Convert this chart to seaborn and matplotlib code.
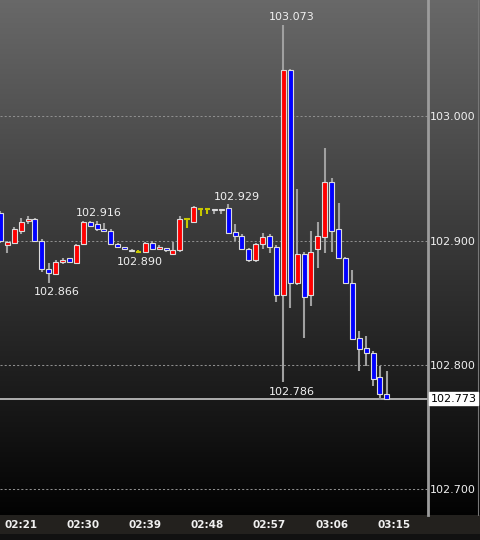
import numpy as np
import pandas as pd
import seaborn as sns
import matplotlib.pyplot as plt
import matplotlib.transforms as mtransforms

# one-minute candles, 02:18 .. 03:14
opens = [102.922, 102.896, 102.898, 102.908, 102.916, 102.917, 102.900, 102.877, 102.873, 102.883,
         102.886, 102.882, 102.897, 102.915, 102.913, 102.909, 102.908, 102.897, 102.895, 102.892,
         102.891, 102.891, 102.898, 102.893, 102.894, 102.889, 102.892, 102.917, 102.915, 102.925,
         102.925, 102.925, 102.9245, 102.926, 102.907, 102.904, 102.893, 102.884, 102.897, 102.904,
         102.895, 102.856, 103.037, 102.866, 102.889, 102.856, 102.893, 102.903, 102.947, 102.909,
         102.886, 102.866, 102.822, 102.814, 102.810, 102.790, 102.777]
highs = [102.924, 102.900, 102.911, 102.918, 102.920, 102.918, 102.901, 102.882, 102.884, 102.886,
         102.886, 102.897, 102.916, 102.916, 102.916, 102.914, 102.909, 102.898, 102.895, 102.893,
         102.892, 102.899, 102.900, 102.896, 102.894, 102.899, 102.920, 102.918, 102.928, 102.925,
         102.925, 102.925, 102.925, 102.929, 102.913, 102.905, 102.894, 102.898, 102.906, 102.905,
         102.896, 103.073, 103.038, 102.941, 102.891, 102.908, 102.915, 102.974, 102.950, 102.930,
         102.887, 102.876, 102.827, 102.823, 102.811, 102.799, 102.795]
lows = [102.898, 102.890, 102.897, 102.905, 102.913, 102.899, 102.875, 102.866, 102.872, 102.881,
        102.882, 102.881, 102.896, 102.911, 102.908, 102.907, 102.896, 102.894, 102.892, 102.891,
        102.890, 102.890, 102.892, 102.892, 102.891, 102.888, 102.891, 102.910, 102.914, 102.920,
        102.921, 102.921, 102.921, 102.905, 102.900, 102.892, 102.883, 102.883, 102.893, 102.890,
        102.851, 102.786, 102.846, 102.864, 102.822, 102.847, 102.878, 102.890, 102.891, 102.885,
        102.865, 102.820, 102.795, 102.799, 102.783, 102.772, 102.772]
closes = [102.900, 102.899, 102.909, 102.915, 102.917, 102.900, 102.877, 102.874, 102.883, 102.884,
          102.883, 102.896, 102.915, 102.912, 102.909, 102.908, 102.897, 102.895, 102.893, 102.8915,
          102.891, 102.898, 102.893, 102.895, 102.892, 102.892, 102.917, 102.917, 102.927, 102.925,
          102.925, 102.9245, 102.925, 102.906, 102.904, 102.893, 102.884, 102.897, 102.903, 102.895,
          102.856, 103.037, 102.866, 102.889, 102.855, 102.891, 102.904, 102.947, 102.908, 102.886,
          102.866, 102.821, 102.813, 102.810, 102.789, 102.777, 102.773]

time_labels = ['02:21', '02:30', '02:39', '02:48', '02:57', '03:06', '03:15']
time_idx = [3, 12, 21, 30, 39, 48, 57]
price_levels = [102.700, 102.800, 102.900, 103.000]
last_price = 102.773

# (candle index, price, 'high'/'low')
marks_idx = [41, 41, 33, 13, 19, 7]
marks_val = [103.073, 102.786, 102.929, 102.916, 102.890, 102.866]
marks_side = ['high', 'low', 'high', 'high', 'low', 'low']

df = pd.DataFrame({'open': opens, 'high': highs, 'low': lows, 'close': closes})
df['i'] = np.arange(len(df))

sns.set_style('dark')
plt.rcParams['font.family'] = ['DejaVu Sans']

fig = plt.figure(figsize=(4.8, 5.4), dpi=100)

# background gradient over whole figure
H = 540
bgc = np.zeros((H, 1, 3))
g = np.linspace(0.41, 0.01, 515)
bgc[:515, 0, :] = g[:, None]
bgc[515:534, 0, :] = [0.14, 0.13, 0.12]
bgc[534:, 0, :] = [0.07, 0.07, 0.07]
bg = fig.add_axes([0, 0, 1, 1])
bg.imshow(bgc, aspect='auto', extent=[0, 1, 0, 1])
bg.set_axis_off()
bg.axvline(478 / 480, ymin=25 / 540, color='#777777', lw=0.8)

ax = fig.add_axes([0, 25 / 540, 428 / 480, 515 / 540])
ax.set_facecolor('none')
ax.set_xlim(-0.07, 61.96)
ax.set_ylim(102.6795, 103.0932)

for lv in price_levels:
    ax.axhline(lv, color='#8e8e8e', lw=0.75, ls=(0, (2, 2)), zorder=1)
ax.axhline(last_price, color='#c8c8c8', lw=1.2, zorder=1)

up = df[df.close > df.open]
dn = df[df.close < df.open]
dj = df[df.close == df.open]

ax.vlines(df.i[df.close != df.open], df.low[df.close != df.open], df.high[df.close != df.open],
          color='#a0a0a0', lw=1.5, zorder=2)
ax.vlines(dj.i, dj.low, dj.high, color='#c8c800', lw=1.5, zorder=2)
ax.bar(up.i, up.close - up.open, bottom=up.open, width=0.72, color='#ff0000',
       edgecolor='#dcdcdc', lw=0.8, zorder=3)
ax.bar(dn.i, dn.close - dn.open, bottom=dn.open, width=0.72, color='#0000ff',
       edgecolor='#dcdcdc', lw=0.8, zorder=3)
ax.hlines(dj.open, dj.i - 0.4, dj.i + 0.4, color='#c8c800', lw=1.5, zorder=3)

for i, v, s in zip(marks_idx, marks_val, marks_side):
    dy = 2 if s == 'high' else -3
    ax.annotate(f'{v:.3f}', (i, v), xytext=(-14.5 * 0.72, dy), textcoords='offset points',
                ha='left', va='bottom' if s == 'high' else 'top', color='#f0f0f0', fontsize=8)

ax.yaxis.tick_right()
ax.set_yticks(price_levels)
ax.set_yticklabels([f'{v:.3f}' for v in price_levels])
ax.tick_params(axis='y', length=0, pad=1.5, labelcolor='#f0f0f0', labelsize=8)
ax.set_xticks(time_idx)
ax.set_xticklabels(time_labels, fontweight='bold')
ax.tick_params(axis='x', length=0, pad=3.5, labelcolor='#f0f0f0', labelsize=7.5)
ax.grid(False)
for s in ['top', 'left', 'bottom']:
    ax.spines[s].set_visible(False)
ax.spines['right'].set_color('#9c9c9c')
ax.spines['right'].set_linewidth(2)

tr = mtransforms.blended_transform_factory(ax.transAxes, ax.transData)
ax.text(1.006, last_price, f'{last_price:.3f}', transform=tr, ha='left', va='center',
        color='black', fontsize=8,
        bbox=dict(boxstyle='square,pad=0.12', fc='white', ec='white'))

fig.savefig('out.png', dpi=100)
